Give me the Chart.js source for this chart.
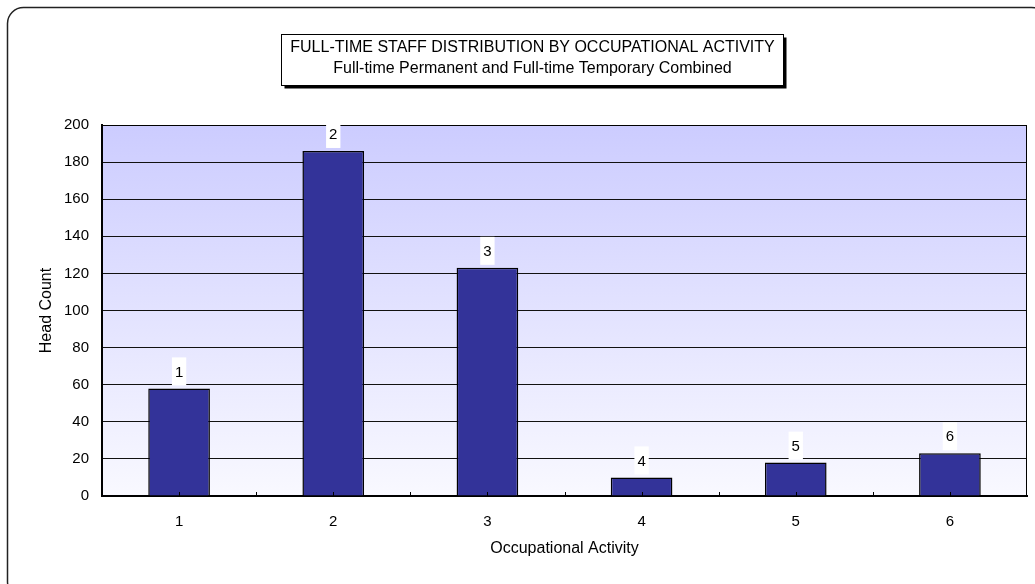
<!DOCTYPE html>
<html>
<head>
<meta charset="utf-8">
<script src="https://cdn.jsdelivr.net/npm/chart.js@4/dist/chart.umd.min.js"></script>
<style>
  html, body { margin: 0; padding: 0; background: #fff; }
  #wrap { width: 1035px; height: 584px; }
</style>
</head>
<body>
<div id="wrap"><canvas id="chart" width="1035" height="584"></canvas></div>
<script>
// data
const categories = ['1', '2', '3', '4', '5', '6'];
const headCount = [58, 186, 123, 10, 18, 23];
const yTicks = [0, 20, 40, 60, 80, 100, 120, 140, 160, 180, 200];

const titleLines = ['FULL-TIME STAFF DISTRIBUTION BY OCCUPATIONAL ACTIVITY',
                    'Full-time Permanent and Full-time Temporary Combined'];
const yTitle = 'Head Count';
const xTitle = 'Occupational Activity';

const FONT = 'Liberation Sans, Arial, sans-serif';

// outer frame, title box, plot background gradient
const backdrop = {
    id: 'backdrop',
    beforeDraw(chart) {
        const ctx = chart.ctx;
        const a = chart.chartArea;
        ctx.save();
        // rounded outer frame (right/bottom run off the image)
        ctx.strokeStyle = '#222';
        ctx.lineWidth = 1.5;
        ctx.beginPath();
        ctx.roundRect(7.5, 7.5, 1040, 590, 16);
        ctx.stroke();

        // gradient plot fill
        const g = ctx.createLinearGradient(0, a.top, 0, a.bottom);
        g.addColorStop(0, '#ccccff');
        g.addColorStop(1, '#f9f9ff');
        ctx.fillStyle = g;
        ctx.fillRect(a.left, a.top, a.right - a.left, a.bottom - a.top);
        ctx.restore();
    },
    afterDraw(chart) {
        const ctx = chart.ctx;
        ctx.save();
        // title box with shadow
        const bx = 281.5, by = 34.5, bw = 502, bh = 51;
        ctx.fillStyle = '#000';
        ctx.fillRect(bx + 3, by + 3, bw, bh);
        ctx.fillStyle = '#fff';
        ctx.fillRect(bx, by, bw, bh);
        ctx.strokeStyle = '#000';
        ctx.lineWidth = 1;
        ctx.strokeRect(bx, by, bw, bh);
        ctx.fillStyle = '#000';
        ctx.textAlign = 'center';
        ctx.textBaseline = 'middle';
        ctx.font = '16px ' + FONT;
        ctx.fillText(titleLines[0], bx + bw / 2, 48);
        ctx.fillText(titleLines[1], bx + bw / 2, 69);
        ctx.restore();
    }
};

// top/right frame of the plot, small ticks on the category axis, bar labels
const plotExtras = {
    id: 'plotExtras',
    afterDatasetsDraw(chart) {
        const ctx = chart.ctx;
        const a = chart.chartArea;
        const x = chart.scales.x;
        ctx.save();
        ctx.strokeStyle = '#000';
        ctx.lineWidth = 1;
        ctx.beginPath();
        ctx.moveTo(a.left, a.top + 0.5);
        ctx.lineTo(a.right, a.top + 0.5);
        ctx.moveTo(a.right - 0.5, a.top);
        ctx.lineTo(a.right - 0.5, a.bottom);
        ctx.stroke();

        // inner ticks at centres and between categories
        const step = x.getPixelForTick(1) - x.getPixelForTick(0);
        ctx.beginPath();
        categories.forEach((c, i) => {
            const px = Math.round(x.getPixelForTick(i)) + 0.5;
            ctx.moveTo(px, a.bottom);
            ctx.lineTo(px, a.bottom - 4);
            if (i > 0) {
                const mid = Math.round(px - step / 2) + 0.5;
                ctx.moveTo(mid, a.bottom);
                ctx.lineTo(mid, a.bottom - 4);
            }
        });
        ctx.stroke();

        // category labels above the bars, on white patches
        const meta = chart.getDatasetMeta(0);
        ctx.font = '15px ' + FONT;
        ctx.textAlign = 'center';
        ctx.textBaseline = 'middle';
        meta.data.forEach((bar, i) => {
            const txt = categories[i];
            const w = ctx.measureText(txt).width + 6;
            const h = 28;
            const top = bar.y - 3 - h;
            ctx.fillStyle = '#fff';
            ctx.fillRect(bar.x - w / 2, top, w, h);
            ctx.fillStyle = '#000';
            ctx.fillText(txt, bar.x, top + h / 2 + 1);
        });
        ctx.restore();
    }
};

new Chart(document.getElementById('chart').getContext('2d'), {
    type: 'bar',
    data: {
        labels: categories,
        datasets: [{
            label: yTitle,
            data: headCount,
            backgroundColor: '#333399',
            borderColor: '#000',
            borderWidth: 1.5,
            barPercentage: 0.4,
            categoryPercentage: 1
        }]
    },
    options: {
        responsive: false,
        animation: false,
        layout: { padding: { top: 125, right: 8, left: 0, bottom: 0 } },
        plugins: {
            legend: { display: false },
            tooltip: { enabled: false }
        },
        scales: {
            x: {
                grid: { display: false, drawTicks: false },
                border: { color: '#000', width: 2 },
                ticks: { color: '#000', font: { family: FONT, size: 15 }, padding: 17 },
                title: { display: true, text: xTitle, color: '#000', font: { family: FONT, size: 16 }, padding: { bottom: 26 } },
                afterFit(scale) { scale.height = 88; }
            },
            y: {
                min: 0,
                max: 200,
                afterBuildTicks(scale) { scale.ticks = yTicks.map(v => ({ value: v })); },
                grid: { color: '#111', lineWidth: 1, drawTicks: false },
                border: { color: '#000', width: 2 },
                ticks: { color: '#000', font: { family: FONT, size: 15 }, padding: 13 },
                title: { display: true, text: yTitle, color: '#000', font: { family: FONT, size: 16 }, padding: { top: 37 } },
                afterFit(scale) { scale.width = 102; }
            }
        }
    },
    plugins: [backdrop, plotExtras]
});
</script>
</body>
</html>
